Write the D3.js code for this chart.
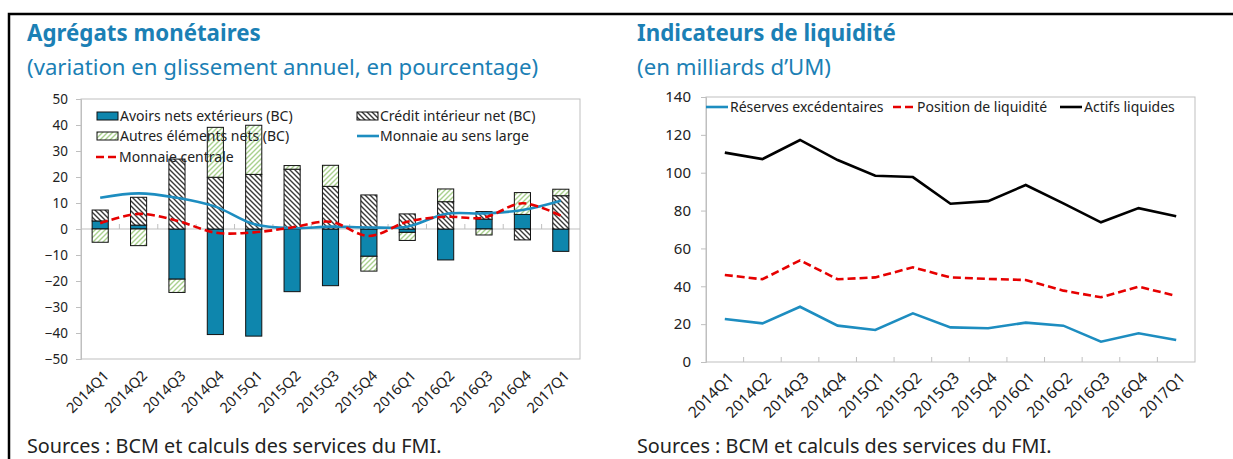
<!DOCTYPE html>
<html>
<head>
<meta charset="utf-8">
<script src="https://cdn.jsdelivr.net/npm/d3@7"></script>
<style>
body { margin: 0; background: #fff; }
svg text { font-family: "Noto Sans", "Open Sans", sans-serif; fill: #222; }
</style>
</head>
<body>
<svg id="fig" width="1233" height="459"></svg>
<script>
// quarters shared by both panels
var quarters = ['2014Q1','2014Q2','2014Q3','2014Q4','2015Q1','2015Q2','2015Q3','2015Q4','2016Q1','2016Q2','2016Q3','2016Q4','2017Q1'];

// left panel: monetary aggregates, y/y % change
var avoirs  = [3.1, 1.5, -19.3, -40.6, -41.2, -24.1, -21.8, -10.5, -1.3, -11.9, 3.8, 5.6, -8.6];
var credit  = [4.2, 10.7, 26.9, 19.9, 21.0, 23.0, 16.4, 13.1, 5.8, 10.5, 2.9, -4.2, 12.8];
var autres  = [-5.1, -6.4, -5.1, 19.2, 18.9, 1.4, 8.1, -5.7, -3.1, 4.9, -2.3, 8.4, 2.5];
var monnaieLarge    = [12.0, 13.7, 12.0, 8.6, 1.9, 0.3, 0.9, 0.6, 0.9, 5.8, 6.0, 7.3, 10.9];
var monnaieCentrale = [2.2, 5.8, 3.2, -1.4, -1.3, 0.6, 2.8, -2.7, 2.8, 4.7, 4.4, 9.9, 5.1];
var leftTicks = [50, 40, 30, 20, 10, 0, -10, -20, -30, -40, -50];

// right panel: liquidity indicators, billions of UM
var reserves = [22.7, 20.4, 29.2, 19.2, 16.9, 25.7, 18.3, 17.8, 20.8, 19.2, 10.7, 15.2, 11.6];
var position = [46.0, 43.7, 53.7, 43.7, 44.7, 50.0, 44.7, 43.9, 43.3, 37.7, 34.2, 39.8, 34.9];
var actifs   = [110.6, 107.2, 117.3, 106.7, 98.4, 97.7, 83.6, 85.0, 93.5, 83.8, 73.8, 81.3, 77.0];
var rightTicks = [0, 20, 40, 60, 80, 100, 120, 140];

var TITLE = '#1b80b5', BLUE = '#0e86ad', LBLUE = '#1d8dc0', RED = '#e60000', GRID = '#bfbfbf';

var svg = d3.select('#fig');

// patterns for hatched bars
var defs = svg.append('defs');
var p1 = defs.append('pattern').attr('id', 'hatchCredit').attr('patternUnits', 'userSpaceOnUse')
	.attr('width', 5).attr('height', 5);
p1.append('rect').attr('width', 5).attr('height', 5).attr('fill', '#fff');
p1.append('path').attr('d', 'M0,0L5,5M-1,4L1,6M4,-1L6,1')
	.attr('stroke', '#3a3a3a').attr('stroke-width', 1.4);
var p2 = defs.append('pattern').attr('id', 'hatchAutres').attr('patternUnits', 'userSpaceOnUse')
	.attr('width', 5).attr('height', 5);
p2.append('rect').attr('width', 5).attr('height', 5).attr('fill', '#fff');
p2.append('path').attr('d', 'M0,5L5,0M-1,1L1,-1M4,6L6,4')
	.attr('stroke', '#a9d18e').attr('stroke-width', 1.4);

// outer frame (top and left only)
svg.append('path').attr('d', 'M9,459L9,14L1233,14')
	.attr('fill', 'none').attr('stroke', '#000').attr('stroke-width', 2.5);

// titles and sources
function heading(x, title, sub) {
	svg.append('text').attr('x', x).attr('y', 41).text(title)
		.style('fill', TITLE).style('font-weight', 'bold').style('font-size', '22.3px');
	svg.append('text').attr('x', x).attr('y', 75).text(sub)
		.style('fill', TITLE).style('font-size', '22.2px');
	svg.append('text').attr('x', x).attr('y', 453).text('Sources : BCM et calculs des services du FMI.')
		.style('font-size', '19.8px');
}
heading(27, 'Agrégats monétaires', '(variation en glissement annuel, en pourcentage)');
heading(637, 'Indicateurs de liquidité', '(en milliards d\u2019UM)');

function xLabels(g, x, yb, size) {
	g.selectAll('text.xl').data(quarters).enter().append('text').attr('class', 'xl')
		.attr('transform', function (d) {return 'translate(' + (x(d) + x.bandwidth()/2 + 6) + ',' + yb + ') rotate(-45)';})
		.attr('text-anchor', 'end').attr('dy', '0.35em')
		.style('font-size', size).text(function (d) {return d;});
}

// ---------- left panel ----------
(function () {
	var g = svg.append('g');
	var x = d3.scaleBand().domain(quarters).range([81, 580]);
	var y = d3.scaleLinear().domain([-50, 50]).range([359, 99]);

	g.append('rect').attr('x', 81).attr('y', 99).attr('width', 499).attr('height', 260)
		.attr('fill', 'none').attr('stroke', GRID);

	var yAxis = d3.axisLeft(y).tickValues(leftTicks).tickSize(5).tickPadding(8);
	var ya = g.append('g').attr('transform', 'translate(81,0)').call(yAxis);
	ya.select('.domain').attr('stroke', GRID);
	ya.selectAll('line').attr('stroke', GRID);
	ya.selectAll('text').style('font-size', '13.5px').style('font-family', '"Noto Sans"').attr('fill', '#222');

	// zero line with small ticks at category borders
	g.append('line').attr('x1', 81).attr('x2', 580).attr('y1', y(0)).attr('y2', y(0)).attr('stroke', GRID);
	g.selectAll('line.ct').data(quarters.slice(1)).enter().append('line').attr('class', 'ct')
		.attr('x1', function (d) {return x(d);}).attr('x2', function (d) {return x(d);})
		.attr('y1', y(0)).attr('y2', y(0) - 5).attr('stroke', GRID);

	var rows = quarters.map(function (q, i) {return {q: q, avoirs: avoirs[i], credit: credit[i], autres: autres[i]};});
	var keys = ['avoirs', 'credit', 'autres'];
	var fills = {avoirs: BLUE, credit: 'url(#hatchCredit)', autres: 'url(#hatchAutres)'};
	var series = d3.stack().keys(keys).offset(d3.stackOffsetDiverging)(rows);
	var bw = x.bandwidth() * 0.42;

	g.selectAll('g.ser').data(series).enter().append('g').attr('class', 'ser')
		.attr('fill', function (s) {return fills[s.key];})
		.selectAll('rect').data(function (s) {return s;}).enter().append('rect')
		.attr('x', function (d) {return x(d.data.q) + (x.bandwidth() - bw)/2;})
		.attr('width', bw)
		.attr('y', function (d) {return y(Math.max(d[0], d[1]));})
		.attr('height', function (d) {return Math.abs(y(d[0]) - y(d[1]));})
		.attr('stroke', '#111').attr('stroke-width', 1);

	var cx = function (d, i) {return x(quarters[i]) + x.bandwidth()/2;};
	var line = d3.line().x(cx).y(function (d) {return y(d);}).curve(d3.curveCatmullRom.alpha(0.5));
	g.append('path').attr('d', line(monnaieLarge)).attr('fill', 'none')
		.attr('stroke', LBLUE).attr('stroke-width', 2.6);
	g.append('path').attr('d', line(monnaieCentrale)).attr('fill', 'none')
		.attr('stroke', RED).attr('stroke-width', 2.6).attr('stroke-dasharray', '8,4');

	xLabels(g, x, 373, '14.5px');

	// legend
	var lg = g.append('g').style('font-size', '14px');
	function box(xx, yy, fill, label) {
		lg.append('rect').attr('x', xx).attr('y', yy - 4).attr('width', 21).attr('height', 8)
			.attr('fill', fill).attr('stroke', '#111');
		lg.append('text').attr('x', xx + 23).attr('y', yy).attr('dy', '0.35em').text(label);
	}
	function ln(xx, yy, col, dash, label) {
		lg.append('line').attr('x1', xx).attr('x2', xx + 22).attr('y1', yy).attr('y2', yy)
			.attr('stroke', col).attr('stroke-width', 2.6).attr('stroke-dasharray', dash);
		lg.append('text').attr('x', xx + 23).attr('y', yy).attr('dy', '0.35em').text(label);
	}
	box(97, 116, BLUE, 'Avoirs nets extérieurs (BC)');
	box(357, 116, 'url(#hatchCredit)', 'Crédit intérieur net (BC)');
	box(97, 136, 'url(#hatchAutres)', 'Autres éléments nets (BC)');
	ln(357, 136, LBLUE, null, 'Monnaie au sens large');
	ln(96, 157, RED, '8,4', 'Monnaie centrale');
})();

// ---------- right panel ----------
(function () {
	var g = svg.append('g');
	var x = d3.scaleBand().domain(quarters).range([706, 1195]);
	var y = d3.scaleLinear().domain([0, 140]).range([362, 97]);

	g.append('rect').attr('x', 706).attr('y', 97).attr('width', 489).attr('height', 265)
		.attr('fill', 'none').attr('stroke', GRID);

	var ya = g.append('g').attr('transform', 'translate(706,0)')
		.call(d3.axisLeft(y).tickValues(rightTicks).tickSize(5).tickPadding(10));
	ya.select('.domain').attr('stroke', GRID);
	ya.selectAll('line').attr('stroke', GRID);
	ya.selectAll('text').style('font-size', '15px').style('font-family', '"Noto Sans"').attr('fill', '#222');

	g.selectAll('line.ct').data(quarters.slice(1)).enter().append('line').attr('class', 'ct')
		.attr('x1', function (d) {return x(d);}).attr('x2', function (d) {return x(d);})
		.attr('y1', 362).attr('y2', 357).attr('stroke', GRID);

	var line = d3.line().x(function (d, i) {return x(quarters[i]) + x.bandwidth()/2;}).y(function (d) {return y(d);});
	g.append('path').attr('d', line(reserves)).attr('fill', 'none').attr('stroke', LBLUE).attr('stroke-width', 2.6);
	g.append('path').attr('d', line(position)).attr('fill', 'none').attr('stroke', RED).attr('stroke-width', 2.6)
		.attr('stroke-dasharray', '8,4');
	g.append('path').attr('d', line(actifs)).attr('fill', 'none').attr('stroke', '#000').attr('stroke-width', 2.6);

	xLabels(g, x, 375, '15.5px');

	var lg = g.append('g').style('font-size', '14px');
	var items = [[706, LBLUE, null, 'Réserves excédentaires'], [893, RED, '8,4', 'Position de liquidité'], [1060, '#000', null, 'Actifs liquides']];
	items.forEach(function (it) {
		lg.append('line').attr('x1', it[0]).attr('x2', it[0] + 22).attr('y1', 107).attr('y2', 107)
			.attr('stroke', it[1]).attr('stroke-width', 2.6).attr('stroke-dasharray', it[2]);
		lg.append('text').attr('x', it[0] + 24).attr('y', 107).attr('dy', '0.35em').text(it[3]);
	});
})();
</script>
</body>
</html>
